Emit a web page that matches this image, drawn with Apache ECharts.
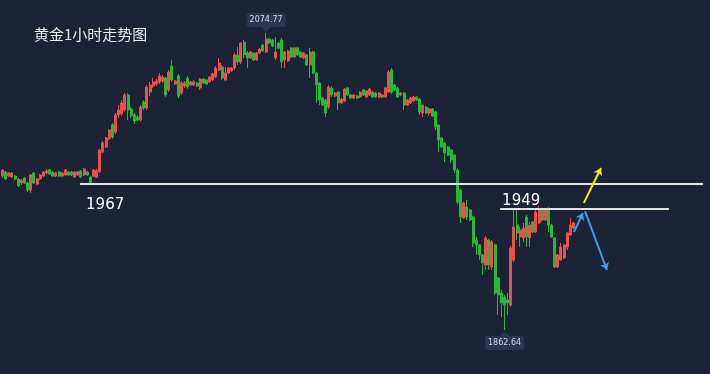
<!DOCTYPE html>
<html>
<head>
<meta charset="utf-8">
<script src="https://cdn.jsdelivr.net/npm/echarts@6/dist/echarts.min.js"></script>
<style>
html,body{margin:0;padding:0;background:#1c2336;}
#chart{width:710px;height:374px;}
</style>
</head>
<body>
<div id="chart"></div>
<script>
// ---- data ----
const titleText = '黄金1小时走势图';
const openP = [1972.6,1975.5,1972.6,1971.9,1972.6,1970.5,1967.6,1971.2,1967.6,1962.6,1974.8,1966.9,1970.5,1972.6,1974.8,1976.9,1975.5,1972.6,1975.5,1972.6,1973.4,1975.5,1975.5,1971.9,1973.4,1976.2,1973.4,1975.5,1971.9,1972.4,1971.7,1975.7,1989.8,1993.3,1999.1,2009.1,2004.1,2016.2,2016.9,2019.8,2030.5,2020.5,2016.2,2014.8,2012.6,2025.5,2021.2,2032.6,2036.9,2038.3,2039.8,2040.5,2042.6,2034.1,2051.2,2038.3,2044.1,2031.9,2036.9,2042.6,2037.6,2037.6,2039.1,2035.5,2041.9,2041.2,2039.8,2041.2,2043.3,2048.4,2050.5,2041.2,2046.2,2047.6,2049.8,2059.1,2054.1,2068.3,2060.5,2056.9,2060.5,2055.5,2060.5,2066.2,2061.2,2070.5,2069.8,2056.9,2067.6,2069.8,2055.5,2054.8,2064.1,2057.6,2064.1,2061.2,2056.9,2059.1,2051.9,2061.2,2046.2,2039.1,2028.3,2026.9,2021.9,2035.5,2029.8,2032.6,2024.8,2026.2,2035.5,2030.5,2028.3,2029.8,2029.1,2034.1,2029.1,2030.5,2032.6,2031.9,2029.1,2030.5,2029.1,2032.6,2048.4,2037.6,2035.5,2030.5,2031.9,2023.3,2024.8,2026.2,2029.1,2027.6,2017.6,2021.9,2017.6,2020.5,2018.4,2009.1,1999.8,1996.2,1993.3,1991.2,1987.6,1976.9,1962.6,1942.6,1950.5,1948.4,1943.4,1926.9,1923.4,1916.2,1909.1,1926.9,1907.6,1923.4,1899.8,1889.1,1886.2,1884.1,1880.5,1912.6,1937.6,1929.1,1928.4,1943.4,1928.4,1939.8,1932.6,1939.1,1948.4,1941.2,1948.4,1937.6,1928.4,1907.6,1912.6,1914.1,1921.9,1930.5,1935.5];
const closeP = [1976.9,1970.5,1974.8,1974.8,1970.5,1965.5,1969.8,1967.6,1962.6,1973.4,1967.6,1970.5,1973.4,1975.5,1976.2,1974.1,1972.6,1974.8,1972.6,1974.8,1976.9,1973.4,1973.4,1975.5,1975.5,1971.9,1977.6,1973.4,1967.6,1976.9,1976.4,1991.2,1996.2,1999.8,2005.5,2000.5,2016.2,2019.8,2024.8,2030.5,2019.8,2015.5,2011.9,2012.6,2021.9,2021.2,2036.2,2037.6,2039.8,2040.5,2044.1,2043.3,2030.5,2046.9,2041.2,2040.5,2029.8,2039.1,2039.1,2036.2,2039.8,2039.8,2036.9,2041.9,2039.1,2038.3,2043.3,2045.5,2049.8,2053.3,2042.6,2046.2,2049.8,2049.8,2059.1,2054.1,2067.6,2059.1,2056.9,2061.2,2055.5,2060.5,2063.3,2061.9,2070.5,2067.6,2065.5,2061.2,2064.1,2054.1,2061.2,2061.9,2057.6,2064.1,2059.1,2057.6,2060.5,2051.9,2061.2,2046.2,2037.6,2026.9,2023.3,2017.6,2036.2,2030.5,2031.9,2024.8,2027.6,2034.8,2030.5,2028.3,2030.5,2028.3,2032.6,2030.5,2033.3,2034.8,2029.1,2029.1,2031.9,2029.1,2035.5,2046.9,2032.6,2034.1,2029.1,2031.9,2023.3,2026.9,2028.3,2029.1,2026.9,2018.4,2023.3,2017.6,2020.5,2015.5,2007.6,1998.3,1993.3,1989.1,1987.6,1984.1,1976.9,1954.1,1943.4,1953.4,1943.4,1941.2,1924.8,1923.4,1916.2,1910.5,1928.4,1909.1,1925.5,1889.1,1887.6,1881.9,1880.5,1881.9,1921.2,1936.2,1932.0,1934.1,1935.5,1929.1,1937.6,1932.6,1946.9,1948.4,1941.2,1948.4,1937.6,1929.1,1907.6,1916.2,1921.9,1923.4,1931.9,1937.6,1939.1];
const lowP = [1971.2,1969.8,1971.9,1971.2,1969.8,1964.8,1966.2,1966.9,1961.2,1960.5,1966.9,1966.2,1969.8,1971.9,1974.1,1973.4,1971.9,1971.9,1971.9,1971.9,1972.6,1972.6,1972.6,1971.2,1972.6,1971.2,1972.6,1972.6,1966.9,1971.9,1971.2,1975.0,1989.1,1992.6,1998.4,1999.1,2002.6,2014.1,2015.5,2018.4,2012.6,2014.1,2009.8,2011.9,2011.2,2019.8,2019.8,2029.8,2035.5,2036.9,2038.3,2039.1,2029.1,2032.6,2039.8,2037.6,2028.3,2030.5,2035.5,2034.8,2036.9,2036.9,2036.2,2034.1,2038.3,2037.6,2039.1,2040.5,2042.6,2047.6,2041.2,2040.5,2045.5,2046.9,2048.4,2051.9,2052.6,2056.9,2049.8,2056.2,2054.8,2054.8,2059.8,2061.2,2060.5,2066.9,2064.8,2055.5,2063.3,2049.8,2049.8,2054.1,2056.9,2056.9,2058.4,2056.9,2056.2,2051.2,2042.6,2045.5,2024.8,2023.3,2022.6,2014.8,2020.5,2029.1,2029.1,2019.8,2024.1,2025.5,2029.8,2027.6,2027.6,2027.6,2028.3,2029.8,2028.3,2029.8,2028.3,2028.3,2028.3,2028.3,2028.3,2031.9,2031.2,2033.3,2028.3,2029.8,2019.8,2022.6,2024.1,2025.5,2026.2,2016.2,2014.8,2016.9,2015.5,2014.8,2005.5,1989.8,1992.6,1982.6,1986.9,1981.9,1974.8,1952.6,1939.1,1941.9,1941.2,1940.5,1921.9,1916.2,1912.6,1901.9,1905.5,1905.5,1905.5,1887.6,1873.4,1872.0,1862.64,1873.4,1879.1,1911.2,1926.9,1921.9,1925.5,1921.9,1921.9,1931.9,1931.9,1938.4,1940.5,1940.5,1932.6,1928.4,1906.9,1906.9,1911.9,1913.4,1919.8,1929.8,1934.8];
const highP = [1977.6,1976.2,1975.5,1975.5,1973.4,1971.2,1970.5,1971.9,1968.4,1974.1,1975.5,1971.2,1974.1,1976.2,1977.6,1977.6,1976.2,1975.5,1976.2,1975.5,1977.6,1976.2,1976.2,1976.2,1976.2,1976.9,1978.3,1976.2,1972.6,1977.6,1977.6,1992.0,1997.6,2000.5,2006.2,2010.5,2017.6,2023.3,2026.9,2031.9,2031.9,2021.9,2017.6,2016.2,2023.3,2026.9,2037.6,2039.8,2042.6,2041.9,2046.2,2044.8,2043.3,2048.4,2055.5,2041.2,2045.5,2040.5,2040.5,2044.1,2040.5,2041.2,2039.8,2042.6,2042.6,2041.9,2044.1,2046.2,2051.2,2056.9,2051.9,2050.5,2050.5,2050.5,2060.5,2064.8,2068.3,2069.8,2061.9,2061.9,2061.2,2061.2,2064.1,2066.9,2074.77,2071.2,2070.5,2071.9,2068.3,2071.2,2061.9,2062.6,2064.8,2064.8,2064.8,2061.9,2061.2,2059.8,2064.1,2061.9,2046.9,2039.8,2029.1,2027.6,2037.6,2036.9,2032.6,2033.3,2028.3,2035.5,2036.2,2031.2,2031.2,2030.5,2033.3,2034.8,2034.1,2035.5,2033.3,2032.6,2032.6,2031.2,2036.2,2048.4,2049.8,2038.3,2036.2,2032.6,2032.6,2027.6,2029.1,2029.8,2029.8,2028.3,2024.1,2022.6,2021.2,2021.2,2019.1,2009.8,2000.5,1996.9,1994.1,1991.9,1988.3,1978.3,1963.3,1954.1,1955.5,1949.1,1944.1,1929.1,1924.1,1916.9,1929.8,1927.6,1926.9,1924.1,1900.5,1891.2,1887.6,1889.1,1922.6,1948.4,1949.8,1936.2,1939.1,1944.8,1939.8,1940.5,1948.4,1951.2,1949.1,1949.1,1950.5,1938.3,1929.1,1916.9,1924.8,1924.1,1932.6,1942.6,1939.8];

// horizontal key levels: price, start slot, end slot
const levelPrices = [1967, 1949];
const levelStart = [24.7, 158.6];
const levelEnd = [223.3, 212.4];
const levelLabels = ['1967', '1949'];
// arrows: [startSlot, startPrice, endSlot, endPrice]
const arrowYellow = [185.3, 1953.4, 190.75, 1978.3];
const arrowBlueUp = [182.15, 1932.6, 185.0, 1946.2];
const arrowBlueDown = [185.65, 1947.6, 192.66, 1905.5];

const SLOTS = 226;
const categories = Array.from({length: SLOTS}, (_, i) => 'H' + (i + 1));
const candles = openP.map((o, i) => [o, closeP[i], lowP[i], highP[i]]);

const chart = echarts.init(document.getElementById('chart'), null, {renderer: 'canvas'});

function arrow(a, color) {
  return [{coord: [a[0], a[1]], lineStyle: {color: color, width: 2}},
          {coord: [a[2], a[3]]}];
}

chart.setOption({
  animation: false,
  backgroundColor: '#1c2336',
  title: {
    text: titleText, left: 29, top: 22,
    textStyle: {color: '#ececec', fontSize: 15, fontWeight: 'normal', fontFamily: 'Noto Sans CJK SC'}
  },
  grid: {left: 1, right: 0, top: 0, bottom: 0},
  xAxis: [
    {type: 'category', data: categories, show: false, boundaryGap: true},
    {type: 'value', min: -0.5, max: SLOTS - 0.5, show: false}
  ],
  yAxis: {type: 'value', min: 1831.2, max: 2098.34, show: false, splitLine: {show: false}},
  series: [
    {
      type: 'candlestick',
      data: candles,
      barWidth: 2.5,
      itemStyle: {color: '#e9514a', color0: '#27b935', borderColor: '#e9514a', borderColor0: '#27b935', borderWidth: 1},
      markPoint: {
        symbolSize: [9, 5],
        itemStyle: {color: '#2b3750'},
        label: {
          show: true, fontSize: 8, color: '#d3d8e0', backgroundColor: '#2b3750',
          padding: [3, 3, 3, 3], borderRadius: 2, fontFamily: 'DejaVu Sans',
          formatter: p => Number(p.value).toFixed(2)
        },
        data: [
          {type: 'max', valueDim: 'highest', symbol: 'path://M0,0L10,0L5,6Z', symbolOffset: [0, -3.5], label: {position: 'top', distance: 0}},
          {type: 'min', valueDim: 'lowest', symbol: 'path://M5,0L10,6L0,6Z', symbolOffset: [0, 3.5], label: {position: 'bottom', distance: 0}}
        ]
      }
    },
    {
      type: 'line',
      xAxisIndex: 1,
      data: [],
      markLine: {
        silent: true,
        symbol: ['none', 'none'],
        label: {show: false},
        lineStyle: {type: 'solid'},
        data: levelPrices.map((p, i) => [
          {coord: [levelStart[i], p], lineStyle: {color: '#e2e2e2', width: 2}},
          {coord: [levelEnd[i], p]}
        ])
      }
    },
    {
      type: 'line',
      xAxisIndex: 1,
      data: [],
      markLine: {
        silent: true,
        symbol: ['none', 'arrow'],
        symbolSize: 7,
        label: {show: false},
        lineStyle: {type: 'solid'},
        data: [arrow(arrowYellow, '#f2ee12'), arrow(arrowBlueUp, '#3d9be9'), arrow(arrowBlueDown, '#3d9be9')]
      }
    }
  ]
});

// level labels, placed from the level prices
const textDx = [6, 2];
const textDy = [14, -15];
chart.setOption({
  graphic: levelLabels.map((t, i) => {
    const px = chart.convertToPixel({xAxisIndex: 1, yAxisIndex: 0}, [levelStart[i], levelPrices[i]]);
    return {
      type: 'text', left: px[0] + textDx[i], top: px[1] + textDy[i],
      style: {text: t, fill: '#ffffff', fontSize: 15, fontFamily: 'DejaVu Sans'}
    };
  })
});
</script>
</body>
</html>
